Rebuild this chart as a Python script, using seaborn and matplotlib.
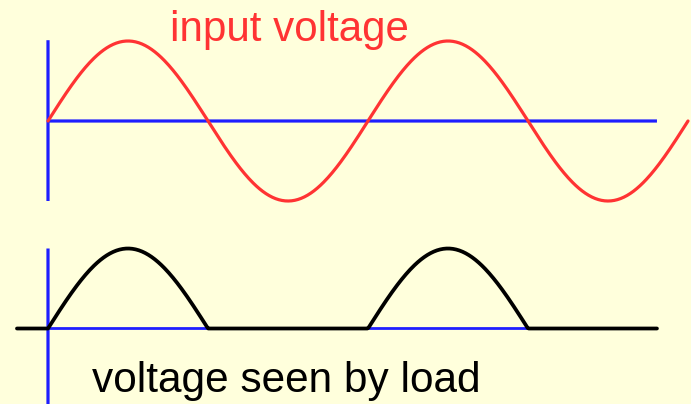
import numpy as np
import matplotlib
matplotlib.use("Agg")
import matplotlib.pyplot as plt
import seaborn as sns

# Diagram content
top_label = "input voltage"
bottom_label = "voltage seen by load"
cycles = 2            # number of full periods of the input
amplitude = 1.0       # peak voltage (arbitrary units)
axis_end = 1.903      # where the blue time axis stops (in periods)
lead_in = -0.097      # black load line starts a little before t = 0

BG = "#FFFFDC"
RED = "#FF3333"
BLUE = "#1E1EFF"
BLACK = "#000000"

sns.set_theme(style="white", rc={"figure.facecolor": BG, "axes.facecolor": BG})
plt.rcParams["font.family"] = ["Liberation Sans", "DejaVu Sans"]

W, H = 691, 404
fig = plt.figure(figsize=(W / 100, H / 100), dpi=100)

# both panels share the same time scale: t=0 at x=48px, one period = 320px
xlim = (-48 / 320, (W - 48) / 320)

def panel(top_px, bottom_px, zero_px, scale_px=80):
    ax = fig.add_axes([0, 1 - bottom_px / H, 1, (bottom_px - top_px) / H])
    ax.set_xlim(*xlim)
    ax.set_ylim(-(bottom_px - zero_px) / scale_px, (zero_px - top_px) / scale_px)
    ax.axis("off")
    return ax

ax_top = panel(0, 225, 121)
ax_bot = panel(225, H, 328.5)

t = np.linspace(0, cycles, 600)
v_in = amplitude * np.sin(2 * np.pi * t)
v_load = np.clip(v_in, 0, None)

lw = 2.3

# input voltage panel
ax_top.vlines(0, -amplitude, amplitude * 1.01, color=BLUE, lw=lw, zorder=1, snap=False)
ax_top.hlines(0, 0, axis_end, color=BLUE, lw=lw, zorder=1, snap=False)
sns.lineplot(x=t, y=v_in, ax=ax_top, color=RED, lw=lw)
ax_top.lines[-1].set_clip_on(False)
ax_top.lines[-1].set_zorder(3)

# load voltage panel
ax_bot.vlines(0, ax_bot.get_ylim()[0], amplitude, color=BLUE, lw=lw, zorder=1, snap=False)
ax_bot.hlines(0, 0, axis_end, color=BLUE, lw=2.0, zorder=1, snap=False)
mask = t <= axis_end
sns.lineplot(x=np.r_[lead_in, t[mask], axis_end], y=np.r_[0, v_load[mask], 0],
             ax=ax_bot, color=BLACK, lw=2.7, sort=False)
ax_bot.lines[-1].set_clip_on(False)
ax_bot.lines[-1].set_zorder(3)
ax_bot.lines[-1].set_snap(False)

fig.text(170 / W, 1 - 41 / H, top_label, color=RED, fontsize=30.3, va="baseline", ha="left")
fig.text(92 / W, 1 - 392 / H, bottom_label, color=BLACK, fontsize=30.5, va="baseline", ha="left")

fig.savefig("out.png", dpi=100, facecolor=BG)
